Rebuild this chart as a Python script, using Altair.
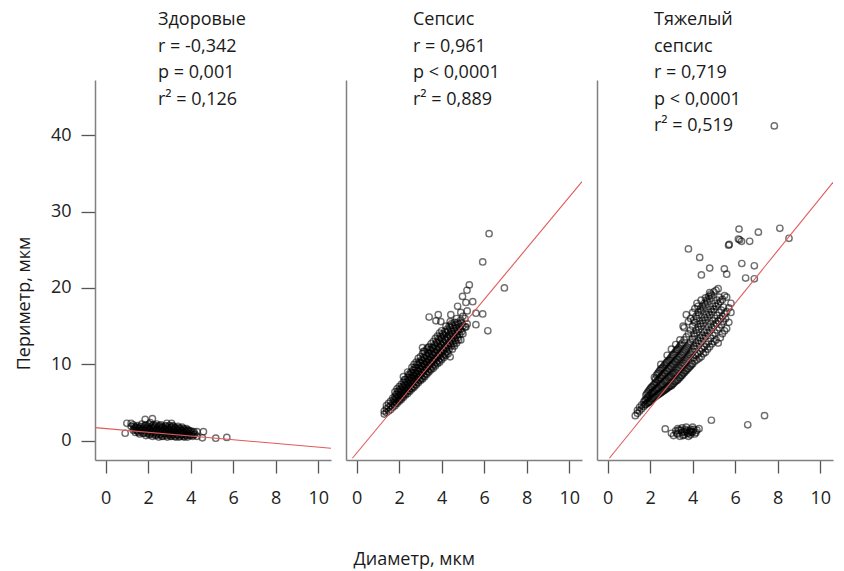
import altair as alt
import pandas as pd

FONT = "Open Sans"

# ---- Panel 1: Здоровые ----
healthy_x = [1.2,1.3,1.3,1.4,1.4,1.5,1.5,1.6,1.6,1.7,1.7,1.8,1.8,1.9,1.9,1.9,2.0,2.0,2.1,2.1,2.1,2.2,2.2,2.2,
             2.3,2.3,2.4,2.4,2.4,2.5,2.5,2.5,2.6,2.6,2.6,2.7,2.7,2.7,2.8,2.8,2.8,2.9,2.9,2.9,3.0,3.0,3.0,
             3.1,3.1,3.1,3.2,3.2,3.2,3.3,3.3,3.3,3.4,3.4,3.4,3.5,3.5,3.5,3.6,3.6,3.6,3.7,3.7,3.7,3.8,3.8,3.8,
             3.9,3.9,4.0,4.0,4.1,4.1,4.2,4.3,4.3,
             0.92,1.0,1.2,1.86,2.2,2.88,3.1,4.6,4.55,5.18,5.7]
healthy_y = [1.9,1.4,2.1,1.7,1.1,2.0,1.3,1.6,0.9,2.2,1.4,1.8,1.0,2.1,1.5,0.7,1.9,1.2,2.4,1.6,0.9,2.0,1.3,0.6,
             1.8,1.1,2.2,1.5,0.8,1.9,1.2,0.5,2.1,1.6,0.9,1.8,1.3,0.6,2.0,1.5,1.0,1.7,1.2,0.5,2.0,1.4,0.8,
             1.8,1.1,0.6,1.9,1.5,0.9,1.7,1.2,0.5,1.9,1.4,0.8,1.6,1.1,0.6,1.8,1.3,0.8,1.5,1.0,0.5,1.6,1.2,0.7,
             1.4,0.9,1.3,0.7,1.1,0.6,0.9,1.2,0.6,
             1.0,2.3,2.3,2.8,2.9,2.3,2.3,1.2,0.4,0.35,0.45]
healthy_fill_x = [1.35,1.35,1.45,1.45,1.55,1.55,1.65,1.65,1.75,1.75,1.85,1.85,1.95,1.95,2.05,2.05,2.05,
                  2.15,2.15,2.25,2.25,2.25,2.35,2.35,2.35,2.45,2.45,2.55,2.55,2.55,2.65,2.65,2.65,2.75,2.75,
                  2.85,2.85,2.85,2.95,2.95,3.05,3.05,3.05,3.15,3.15,3.15,3.25,3.25,3.25,3.35,3.35,
                  3.45,3.45,3.45,3.55,3.55,3.65,3.65,3.65,3.75,3.75,3.85,3.85,3.85,3.95,3.95,4.05,4.15,4.15]
healthy_fill_y = [1.6,1.9,1.4,1.8,1.1,1.7,1.3,1.9,1.0,1.6,1.3,2.0,1.0,1.7,0.8,1.5,2.2,
                  1.1,1.8,0.9,1.6,2.1,0.7,1.3,2.0,1.0,1.7,0.8,1.4,2.0,0.6,1.2,1.8,0.9,1.6,
                  0.7,1.3,1.9,0.9,1.5,0.6,1.1,1.7,0.8,1.4,2.0,0.6,1.1,1.7,0.8,1.4,
                  0.5,1.1,1.7,0.8,1.4,0.6,1.1,1.6,0.8,1.3,0.5,1.0,1.4,0.7,1.2,0.9,0.8,1.2]

# ---- Panel 2: Сепсис ----
sepsis_x = [1.3,1.3, 1.4,1.4,1.4, 1.5,1.5,1.5, 1.6,1.6,1.6, 1.7,1.7,1.7, 1.8,1.8,1.8,1.8, 1.9,1.9,1.9,1.9,
            2.0,2.0,2.0,2.0, 2.1,2.1,2.1,2.1, 2.2,2.2,2.2,2.2,2.2, 2.3,2.3,2.3,2.3, 2.4,2.4,2.4,2.4,2.4,
            2.5,2.5,2.5,2.5, 2.6,2.6,2.6,2.6,2.6, 2.7,2.7,2.7,2.7,2.7, 2.8,2.8,2.8,2.8,2.8, 2.9,2.9,2.9,2.9,2.9,
            3.0,3.0,3.0,3.0,3.0, 3.1,3.1,3.1,3.1,3.1,3.1, 3.2,3.2,3.2,3.2,3.2, 3.3,3.3,3.3,3.3,3.3,
            3.4,3.4,3.4,3.4,3.4, 3.5,3.5,3.5,3.5,3.5, 3.6,3.6,3.6,3.6,3.6, 3.7,3.7,3.7,3.7,3.7,
            3.8,3.8,3.8,3.8,3.8, 3.9,3.9,3.9,3.9,3.9, 4.0,4.0,4.0,4.0,4.0, 4.1,4.1,4.1,4.1,
            4.2,4.2,4.2,4.2,4.2, 4.3,4.3,4.3,4.3, 4.4,4.4,4.4,4.4,4.4, 4.5,4.5,4.5,4.5, 4.6,4.6,4.6,4.6,
            4.7,4.7,4.7,4.7, 4.8,4.8,4.8, 4.9,4.9,4.9,4.9, 5.0,5.0,5.0, 5.1,5.1, 5.2,5.2,
            3.41,3.73,3.84,3.96,4.43,4.75,4.98,5.19,5.3,5.14,5.46,5.61,5.93,6.17,6.95,5.93,6.23,5.61,5.14]
sepsis_y = [3.5,3.9, 3.7,4.2,4.6, 3.9,4.4,4.9, 4.1,4.6,5.2, 4.4,5.0,5.6, 4.6,5.2,5.8,6.4, 4.9,5.5,6.1,6.8,
            5.2,5.8,6.4,7.1, 5.4,6.0,6.7,7.4, 5.7,6.3,7.0,7.7,8.4, 6.0,6.6,7.3,8.0, 6.2,6.9,7.6,8.3,9.0,
            6.5,7.2,7.9,8.6, 6.8,7.5,8.2,8.9,9.6, 7.0,7.7,8.5,9.2,10.0, 7.3,8.0,8.8,9.5,10.3, 7.6,8.3,9.1,9.9,10.8,
            7.9,8.6,9.4,10.2,11.0, 8.1,8.9,9.7,10.5,11.4,12.2, 8.4,9.2,10.0,10.8,11.7, 8.7,9.5,10.3,11.1,12.0,
            9.0,9.8,10.6,11.4,12.3, 9.3,10.1,10.9,11.8,12.7, 9.5,10.4,11.2,12.1,13.0, 9.8,10.7,11.5,12.4,13.4,
            10.1,11.0,11.9,12.8,13.7, 10.3,11.2,12.2,13.1,14.1, 10.6,11.5,12.5,13.4,14.4, 10.9,11.8,12.8,13.8,
            11.2,12.1,13.1,14.1,15.0, 11.4,12.4,13.4,14.4, 11.0,12.7,13.7,14.8,15.6, 12.0,13.0,14.0,15.1, 12.4,13.4,14.4,15.5,
            12.8,13.8,14.8,16.0, 13.2,14.3,15.3, 13.2,14.6,15.8,16.8, 14.0,15.0,16.3, 14.9,16.0, 15.3,17.0,
            16.2,15.7,16.5,15.6,16.5,17.6,18.9,19.7,20.4,18.1,18.2,16.7,16.6,14.4,20.0,23.4,27.1,15.2,14.9]
sepsis_fill_x = [1.75,1.75, 1.85,1.85,1.85, 1.95,1.95,1.95, 2.05,2.05,2.05, 2.15,2.15,2.15, 2.25,2.25,2.25,2.25,
                 2.35,2.35,2.35, 2.45,2.45,2.45,2.45, 2.55,2.55,2.55,2.55, 2.65,2.65,2.65,2.65, 2.75,2.75,2.75,2.75,
                 2.85,2.85,2.85,2.85, 2.95,2.95,2.95,2.95, 3.05,3.05,3.05,3.05, 3.15,3.15,3.15,3.15,3.15,
                 3.25,3.25,3.25,3.25, 3.35,3.35,3.35,3.35,3.35, 3.45,3.45,3.45,3.45, 3.55,3.55,3.55,3.55,
                 3.65,3.65,3.65,3.65, 3.75,3.75,3.75,3.75, 3.85,3.85,3.85,3.85, 3.95,3.95,3.95,3.95,
                 4.05,4.05,4.05,4.05, 4.15,4.15,4.15,4.15, 4.25,4.25,4.25,4.25, 4.35,4.35,4.35,4.35,
                 4.45,4.45,4.45,4.45, 4.55,4.55,4.55, 4.65,4.65,4.65, 4.75,4.75,4.75, 4.85,4.85, 4.95,4.95]
sepsis_fill_y = [4.8,5.4, 5.0,5.6,6.1, 5.3,5.9,6.5, 5.5,6.1,6.8, 5.8,6.4,7.1, 6.1,6.7,7.4,8.0,
                 6.4,7.0,7.7, 6.6,7.3,8.0,8.7, 6.9,7.6,8.3,9.0, 7.1,7.9,8.6,9.3, 7.4,8.1,8.9,9.6,
                 7.7,8.4,9.2,10.0, 8.0,8.7,9.5,10.3, 8.2,9.0,9.8,10.6, 8.5,9.3,10.1,10.9,11.7,
                 8.8,9.6,10.4,11.2, 9.1,9.9,10.7,11.5,12.2, 9.4,10.2,11.0,11.9, 9.7,10.5,11.3,12.2,
                 10.0,10.8,11.6,12.5, 10.3,11.1,12.0,12.9, 10.5,11.4,12.3,13.3, 10.8,11.7,12.7,13.6,
                 11.1,12.0,13.0,14.0, 11.4,12.3,13.3,14.3, 11.7,12.6,13.6,14.6, 12.0,12.9,13.9,15.0,
                 12.4,13.3,14.3,15.3, 12.7,13.7,14.7, 13.1,14.1,15.1, 13.5,14.5,15.5, 13.9,14.9, 14.3,15.4]

# ---- Panel 3: Тяжелый сепсис ----
severe_x = [1.3, 1.4,1.4, 1.5,1.5, 1.6,1.6, 1.7,1.7, 1.8,1.8,1.8, 1.9,1.9,1.9, 2.0,2.0,2.0, 2.1,2.1,2.1,
            2.2,2.2,2.2,2.2, 2.3,2.3,2.3,2.3, 2.4,2.4,2.4,2.4, 2.5,2.5,2.5,2.5,2.5, 2.6,2.6,2.6,2.6,
            2.7,2.7,2.7,2.7, 2.8,2.8,2.8,2.8,2.8, 2.9,2.9,2.9,2.9, 3.0,3.0,3.0,3.0,3.0, 3.1,3.1,3.1,3.1,
            3.2,3.2,3.2,3.2,3.2, 3.3,3.3,3.3,3.3, 3.4,3.4,3.4,3.4,3.4, 3.5,3.5,3.5,3.5,
            3.6,3.6,3.6,3.6,3.6, 3.7,3.7,3.7,3.7,3.7, 3.8,3.8,3.8,3.8,3.8, 3.9,3.9,3.9,3.9,3.9,
            4.0,4.0,4.0,4.0,4.0, 4.1,4.1,4.1,4.1,4.1, 4.2,4.2,4.2,4.2,4.2, 4.3,4.3,4.3,4.3,
            4.4,4.4,4.4,4.4,4.4, 4.5,4.5,4.5,4.5, 4.6,4.6,4.6,4.6,4.6, 4.7,4.7,4.7,4.7,
            4.8,4.8,4.8,4.8,4.8, 4.9,4.9,4.9,4.9, 5.0,5.0,5.0,5.0, 5.1,5.1,5.1,5.1, 5.2,5.2,5.2,5.2,
            5.3,5.3,5.3, 5.4,5.4,5.4, 5.5,5.5,5.5, 5.6,5.6,5.6, 5.7,5.7, 5.8,5.8, 3.55,
            3.8,4.33,4.41,4.8,5.49,5.6,5.69,5.72,6.18,6.15,6.21,6.3,6.68,7.09,6.31,6.49,6.9,6.9,8.1,8.53,7.84,
            4.88,6.59,7.38,
            2.71,3.0,3.1,3.2,3.3,3.3,3.4,3.5,3.5,3.6,3.7,3.7,3.8,3.8,3.9,3.9,4.0,4.0,4.1,4.2,4.3,3.45,3.65,3.85,3.95,4.05]
severe_y = [3.3, 3.6,4.0, 3.9,4.4, 4.2,4.7, 4.5,5.1, 4.8,5.4,6.0, 5.0,5.7,6.4, 5.2,6.0,6.8, 5.5,6.3,7.1,
            5.7,6.5,7.4,8.3, 5.9,6.8,7.7,8.6, 6.1,7.0,8.0,9.0, 6.3,7.3,8.3,9.4,10.0, 6.5,7.5,8.6,9.6,
            6.7,7.8,8.9,10.0, 6.9,8.0,9.2,10.3,11.2, 7.1,8.3,9.5,10.6, 7.2,8.5,9.8,11.0,12.0, 7.5,8.8,10.1,11.3,
            7.8,9.0,10.4,11.7,12.6, 8.0,9.3,10.7,12.0, 8.3,9.6,11.0,12.4,13.2, 8.6,9.9,11.3,12.8,
            8.9,10.2,11.7,13.2,14.8, 9.2,10.6,12.1,13.6,16.5, 9.5,11.0,12.5,14.0,15.6, 9.8,11.3,12.9,14.5,16.0,
            10.1,11.7,13.3,15.0,16.8, 10.4,12.0,13.7,15.5,17.3, 10.6,12.4,14.1,16.0,18.0, 10.8,12.7,14.6,16.5,
            11.0,13.0,15.0,17.0,18.4, 11.4,13.4,15.4,17.4, 11.6,13.7,15.8,17.8,18.7, 12.0,14.1,16.2,18.2,
            12.3,14.4,16.5,18.6,19.4, 12.7,14.8,16.9,19.0, 13.0,15.1,17.2,19.5, 13.2,15.4,17.6,19.7, 12.8,15.7,17.9,19.9,
            13.5,16.0,18.2, 14.0,16.3,18.5, 14.4,16.6,19.0, 14.7,16.9,18.8, 15.5,17.4, 16.8,18.0, 15.0,
            25.1,24.0,21.7,22.6,22.5,21.8,25.6,25.7,27.7,26.4,26.3,26.1,26.1,27.3,23.2,21.3,22.9,21.2,27.8,26.5,41.2,
            2.7,2.1,3.3,
            1.57,1.0,0.7,1.3,0.9,1.6,0.6,1.1,1.7,0.8,1.3,1.8,0.6,1.0,1.5,0.8,1.2,1.8,0.9,1.4,1.6,1.4,1.5,1.3,1.1,1.5]
severe_fill_x = [1.75,1.75, 1.85,1.85,1.85, 1.95,1.95,1.95, 2.05,2.05,2.05, 2.15,2.15,2.15, 2.25,2.25,2.25,2.25,
                 2.35,2.35,2.35,2.35, 2.45,2.45,2.45,2.45, 2.55,2.55,2.55,2.55, 2.65,2.65,2.65,2.65,
                 2.75,2.75,2.75,2.75, 2.85,2.85,2.85,2.85, 2.95,2.95,2.95,2.95, 3.05,3.05,3.05,3.05,
                 3.15,3.15,3.15,3.15, 3.25,3.25,3.25,3.25, 3.35,3.35,3.35,3.35, 3.45,3.45,3.45,3.45,
                 3.55,3.55,3.55, 3.65,3.65,3.65, 3.75,3.75,3.75, 3.85,3.85,3.85, 3.95,3.95,
                 3.25,3.35,3.55,3.75,3.9,3.6,4.15,
                 4.05,4.05,4.05,4.05, 4.15,4.15,4.15,4.15, 4.25,4.25,4.25,4.25,4.25, 4.35,4.35,4.35,4.35,
                 4.45,4.45,4.45,4.45, 4.55,4.55,4.55,4.55, 4.65,4.65,4.65,4.65, 4.75,4.75,4.75,4.75,
                 4.85,4.85,4.85,4.85, 4.95,4.95,4.95, 5.05,5.05,5.05, 5.15,5.15,5.15, 5.25,5.25,5.25,
                 5.35,5.35, 5.45,5.45, 5.55]
severe_fill_y = [4.7,5.3, 4.9,5.6,6.2, 5.1,5.9,6.6, 5.4,6.2,7.0, 5.6,6.4,7.3, 5.8,6.7,7.6,8.1,
                 6.0,6.9,7.9,8.8, 6.2,7.2,8.2,9.2, 6.4,7.4,8.5,9.5, 6.6,7.7,8.8,9.8,
                 6.8,7.9,9.1,10.2, 7.0,8.2,9.4,10.5, 7.2,8.4,9.7,10.8, 7.4,8.7,10.0,11.2,
                 7.7,8.9,10.3,11.5, 7.9,9.2,10.6,11.9, 8.2,9.5,10.9,12.2, 8.5,9.8,11.2,12.6,
                 8.8,10.1,11.5, 9.1,10.4,11.9, 9.4,10.8,12.3, 9.7,11.2,12.7, 10.0,11.5,
                 1.0,1.4,0.7,1.0,1.2,1.2,1.1,
                 10.9,12.4,14.0,15.8, 11.2,12.8,14.5,16.3, 11.4,13.1,14.9,16.8,17.6, 11.7,13.5,15.3,17.2,
                 12.0,13.8,15.7,17.6, 12.3,14.2,16.1,18.0, 12.6,14.5,16.5,18.4, 13.0,14.9,16.8,18.9,
                 13.4,15.3,17.2,19.2, 13.8,15.7,17.6, 14.1,16.0,18.0, 14.5,16.4,18.4, 14.8,16.8,18.8,
                 15.2,17.1, 15.6,17.5, 16.0]

# regression lines: endpoints
line_x = [[-0.5, 10.6], [-0.2, 10.6], [0.08, 10.6]]
line_y = [[1.74, -0.97], [-2.27, 33.9], [-2.27, 33.8]]

labels = [
    "Здоровые\nr = -0,342\np = 0,001\nr² = 0,126",
    "Сепсис\nr = 0,961\np < 0,0001\nr² = 0,889",
    "Тяжелый\nсепсис\nr = 0,719\np < 0,0001\nr² = 0,519",
]
label_dx = [63, 67, 57]

x_ticks = [0, 2, 4, 6, 8, 10]
y_ticks = [0, 10, 20, 30, 40]

xscale = alt.Scale(domain=[-0.5, 10.6], nice=False, zero=False)
yscale = alt.Scale(domain=[-2.5, 47.2], nice=False, zero=False)


def panel(xs, ys, lx, ly, label, dx, first):
    df = pd.DataFrame({"x": xs, "y": ys})
    ldf = pd.DataFrame({"x": lx, "y": ly})
    xaxis = alt.Axis(values=x_ticks, grid=False, tickSize=13, labelPadding=16)
    if first:
        yaxis = alt.Axis(values=y_ticks, grid=False, tickSize=14, labelPadding=10,
                         title="Периметр, мкм", titlePadding=17, titleY=223)
        ytitle = "Периметр, мкм"
    else:
        yaxis = alt.Axis(labels=False, ticks=False, grid=False, domain=True)
        ytitle = None
    X = alt.X("x:Q", scale=xscale, axis=xaxis, title=None)
    Y = alt.Y("y:Q", scale=yscale, axis=yaxis, title=ytitle)
    pts = alt.Chart(df).mark_point(shape="circle", filled=False, size=40, stroke="#000000",
                                   strokeOpacity=0.8, strokeWidth=1.4).encode(x=X, y=Y)
    line = alt.Chart(ldf).mark_line(color="#e05a5a", strokeWidth=1.1, clip=True).encode(
        x=alt.X("x:Q", scale=xscale), y=alt.Y("y:Q", scale=yscale))
    txt = alt.Chart(pd.DataFrame({"t": [label]})).mark_text(
        align="left", baseline="top", lineBreak="\n", lineHeight=26.5, fontSize=18,
        font=FONT, color="#1a1a1a").encode(text="t:N", x=alt.value(dx), y=alt.value(-69))
    return alt.layer(pts, line, txt).properties(width=236, height=380)


p1 = panel(healthy_x + healthy_fill_x, healthy_y + healthy_fill_y,
           line_x[0], line_y[0], labels[0], label_dx[0], True)
p2 = panel(sepsis_x + sepsis_fill_x, sepsis_y + sepsis_fill_y,
           line_x[1], line_y[1], labels[1], label_dx[1], False)
p3 = panel(severe_x + severe_fill_x, severe_y + severe_fill_y,
           line_x[2], line_y[2], labels[2], label_dx[2], False)

chart = alt.hconcat(p1, p2, p3, spacing=13).properties(
    title=alt.TitleParams("Диаметр, мкм", orient="bottom", anchor="middle", fontSize=18,
                          fontWeight="normal", font=FONT, color="#1a1a1a", offset=43, dx=-10),
    padding={"left": 14, "top": 10, "right": 8, "bottom": 4},
).configure_view(stroke="transparent").configure_axis(
    labelFont=FONT, labelFontSize=18, labelColor="#222222",
    titleFont=FONT, titleFontSize=18, titleFontWeight="normal", titleColor="#1a1a1a",
    domainColor="#808080", domainWidth=1.5, tickColor="#555555", tickWidth=1.3,
)

chart.save("out.html", embed_options={"renderer": "svg", "actions": False})
